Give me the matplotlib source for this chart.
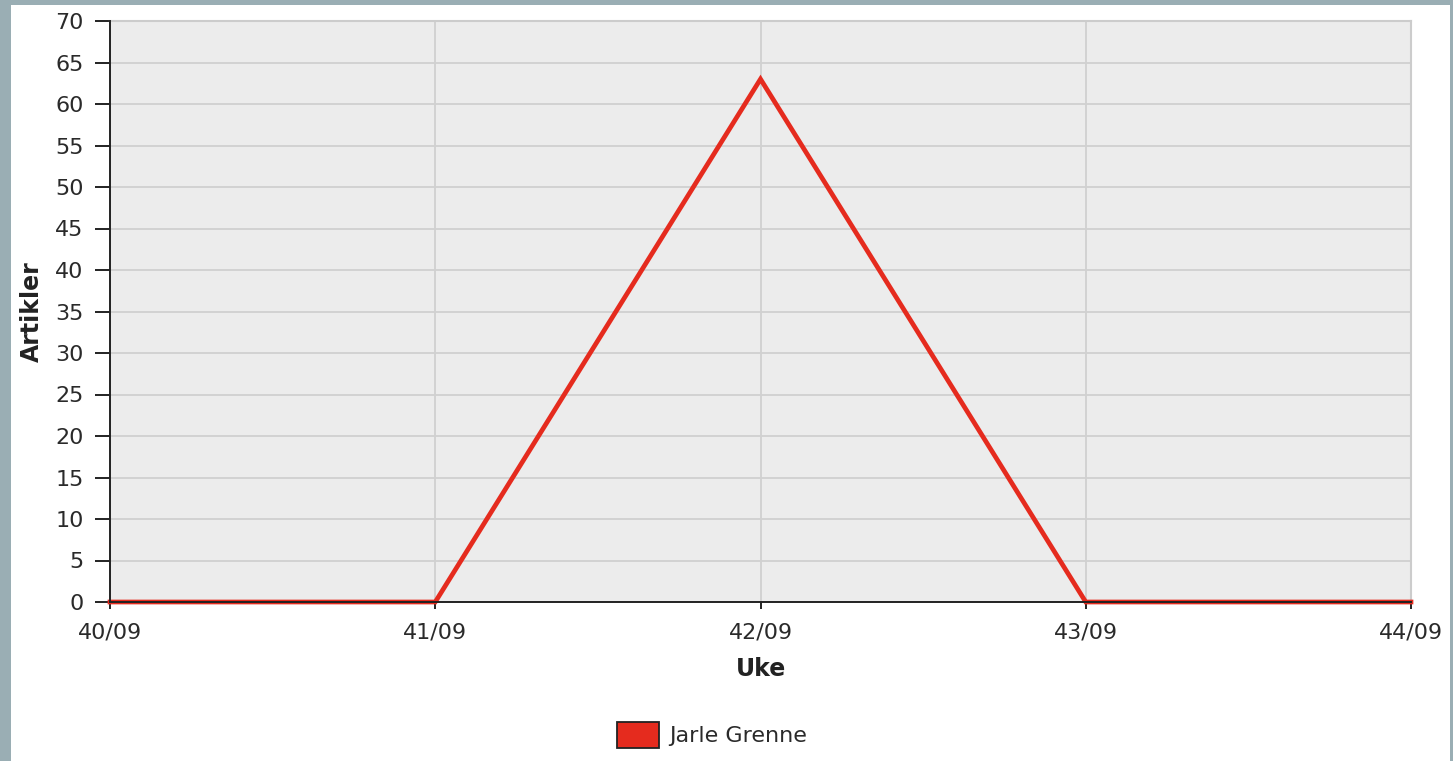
import matplotlib.pyplot as plt
from matplotlib.patches import Rectangle

# Data
weeks = ['40/09', '41/09', '42/09', '43/09', '44/09']
articles = [0, 0, 63, 0, 0]
series_name = 'Jarle Grenne'

W, H = 1453, 761
fig = plt.figure(figsize=(W / 100, H / 100), dpi=100)
fig.patch.set_facecolor('#9aaeb4')
# white panel inside the grey-blue frame
fig.patches.append(Rectangle((11 / W, 0), (1450 - 11) / W, (H - 5) / H,
                             transform=fig.transFigure, facecolor='white',
                             edgecolor='none', zorder=-1))

ax = fig.add_axes([110 / W, 1 - 602 / H, (1411 - 110) / W, (602 - 21) / H])
ax.set_zorder(2)
ax.set_facecolor('#ececec')

x = list(range(len(weeks)))
ax.plot(x, articles, color='#e52b1e', lw=3.4, solid_joinstyle='miter',
        clip_on=False, zorder=3)

ax.set_xlim(0, len(weeks) - 1)
ax.set_ylim(0, 70)
ax.set_xticks(x)
ax.set_xticklabels(weeks)
ax.set_yticks(range(0, 71, 5))

ax.grid(True, color='#d0d0d0', lw=1.3)
ax.set_axisbelow(True)

for side in ('top', 'right'):
    ax.spines[side].set_color('#cccccc')
    ax.spines[side].set_linewidth(1.5)
for side in ('left', 'bottom'):
    ax.spines[side].set_color('#222222')
    ax.spines[side].set_linewidth(1.4)
    ax.spines[side].set_zorder(4)

ax.tick_params(axis='y', length=11, width=1.4, color='#222222',
               labelsize=16, labelcolor='#2a2a2a', pad=8)
ax.tick_params(axis='x', length=5, width=1.4, color='#222222',
               labelsize=16, labelcolor='#2a2a2a', pad=10)

ax.set_xlabel('Uke', fontsize=17, fontweight='bold', color='#222222', labelpad=10)
ax.set_ylabel('Artikler', fontsize=17, fontweight='bold', color='#222222', labelpad=8)

handle = Rectangle((0, 0), 1, 1, facecolor='#e52b1e', edgecolor='#222222', lw=1.3)
fig.legend([handle], [series_name], loc='center',
           bbox_to_anchor=(712 / W, 1 - 735 / H), frameon=False,
           fontsize=16, handlelength=1.9, handleheight=1.42, handletextpad=0.45,
           labelcolor='#2a2a2a')

fig.savefig('out.png', dpi=100, facecolor=fig.get_facecolor())
